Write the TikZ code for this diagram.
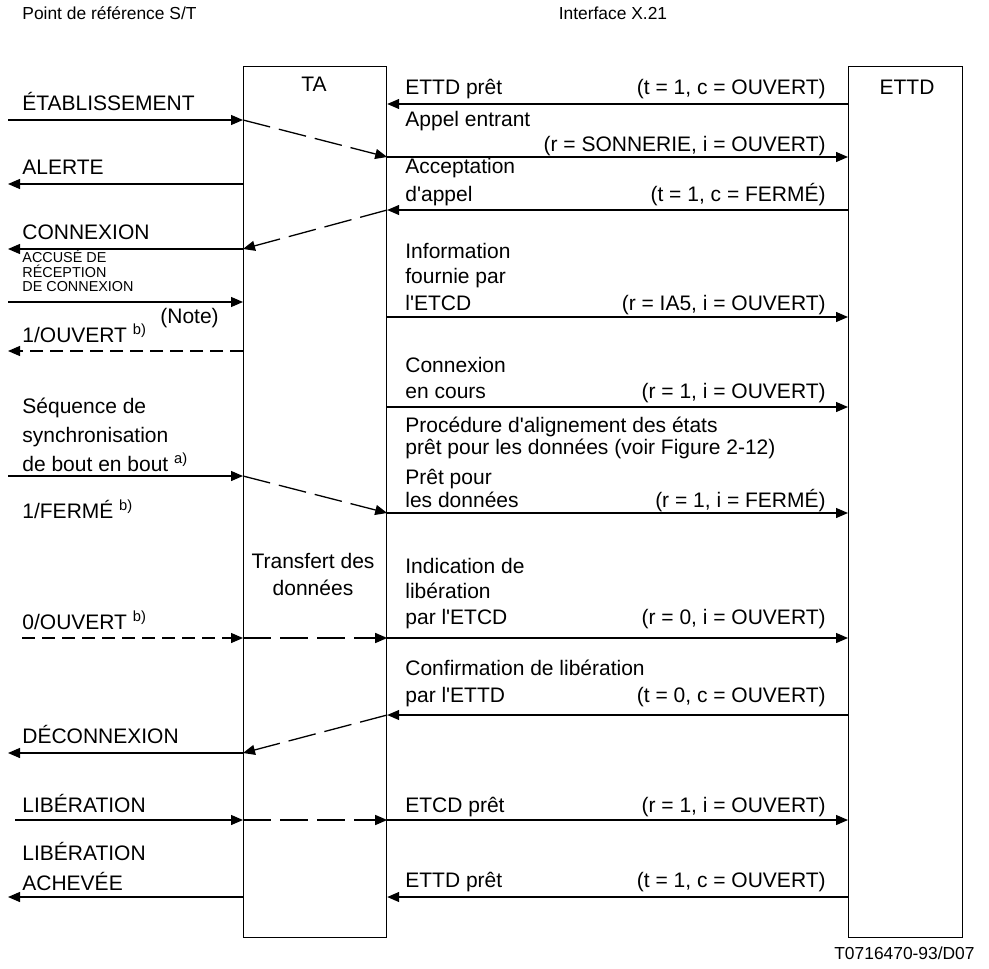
\documentclass[tikz,border=0pt]{standalone}
\usepackage{fontspec}
\setmainfont{Liberation Sans}
\usetikzlibrary{arrows.meta}

\begin{document}
\begin{tikzpicture}[x=0.5pt, y=-0.5pt,
  every node/.style={inner sep=0pt, font=\fontsize{10.5}{12.6}\selectfont},
  lbl/.style={anchor=base west},
  prm/.style={anchor=base east},
  small/.style={anchor=base west, font=\fontsize{7.2}{8}\selectfont},
  hdr/.style={font=\fontsize{8.7}{10}\selectfont},
  unit/.style={draw, line width=0.6pt, anchor=north west},
  msg/.style={line width=0.65pt, -{Triangle[length=6pt, width=5pt]}},
  dmsg/.style={msg, dash pattern=on 6.5pt off 3.5pt},
  lmsg/.style={msg, dash pattern=on 14pt off 4.5pt}]
  \useasboundingbox (0,0) rectangle (989,968);

  \node[hdr, anchor=base west] (refST) at (22,20) {Point de référence S/T};
  \node[hdr, anchor=base] (refX21) at (613,20) {Interface X.21};
  \node[hdr, anchor=base east] (figNo) at (975,959) {T0716470-93/D07};

  \node[unit, minimum width=71.5pt, minimum height=435.5pt] (ta) at (243,66) {};
  \node[unit, minimum width=57pt, minimum height=435.5pt] (ettd) at (848,66) {};
  \node[anchor=base] (taName) at (314,92) {TA};
  \node[anchor=base] (ettdName) at (907,95) {ETTD};
  \node[anchor=base] (xferA) at (313,568) {Transfert des};
  \node[anchor=base] (xferB) at (313,595) {données};

  % point de reference S/T
  \coordinate (etab) at (8,120);
  \coordinate (alerte) at (8,184);
  \coordinate (cnx) at (8,249);
  \coordinate (accuse) at (8,302);
  \coordinate (ouv1) at (8,351);
  \coordinate (synchro) at (8,476);
  \coordinate (ouv0) at (22,638);
  \coordinate (decnx) at (8,753);
  \coordinate (lib) at (15,820);
  \coordinate (libach) at (8,897);

  \node[lbl] (tEtab) at (22,111) {ÉTABLISSEMENT};
  \node[lbl] (tAlerte) at (22,175) {ALERTE};
  \node[lbl] (tCnx) at (22,239) {CONNEXION};
  \node[small] (tAccA) at (22,263) {ACCUSÉ DE};
  \node[small] (tAccB) at (22,277) {RÉCEPTION};
  \node[small] (tAccC) at (22,291) {DE CONNEXION};
  \node[lbl] (tNote) at (160,323) {(Note)};
  \node[lbl] (tOuv1) at (22,342) {1/OUVERT \textsuperscript{b)}};
  \node[lbl] (tSeqA) at (22,413) {Séquence de};
  \node[lbl] (tSeqB) at (22,442) {synchronisation};
  \node[lbl] (tSeqC) at (22,471) {de bout en bout \textsuperscript{a)}};
  \node[lbl] (tFerme) at (22,518) {1/FERMÉ \textsuperscript{b)}};
  \node[lbl] (tOuv0) at (22,629) {0/OUVERT \textsuperscript{b)}};
  \node[lbl] (tDecnx) at (22,743) {DÉCONNEXION};
  \node[lbl] (tLib) at (22,812) {LIBÉRATION};
  \node[lbl] (tLibA) at (22,860) {LIBÉRATION};
  \node[lbl] (tLibB) at (22,890) {ACHEVÉE};

  \draw[msg] (etab) -- (ta.west |- etab);
  \draw[msg] (ta.west |- alerte) -- (alerte);
  \draw[msg] (ta.west |- cnx) -- (cnx);
  \draw[msg] (accuse) -- (ta.west |- accuse);
  \draw[dmsg] (ta.west |- ouv1) -- (ouv1);
  \draw[msg] (synchro) -- (ta.west |- synchro);
  \draw[dmsg] (ouv0) -- (ta.west |- ouv0);
  \draw[msg] (ta.west |- decnx) -- (decnx);
  \draw[msg] (lib) -- (ta.west |- lib);
  \draw[msg] (ta.west |- libach) -- (libach);

  % interface X.21
  \coordinate (ettdA) at (0,104);
  \coordinate (appel) at (0,157);
  \coordinate (accept) at (0,210);
  \coordinate (info) at (0,317);
  \coordinate (encours) at (0,407);
  \coordinate (donnees) at (0,513);
  \coordinate (indic) at (0,638);
  \coordinate (confirm) at (0,715);
  \coordinate (etcd) at (0,820);
  \coordinate (ettdB) at (0,897);

  \node[lbl] (tEttdA) at (405,95) {ETTD prêt};
  \node[prm] (pEttdA) at (826,95) {(t = 1, c = OUVERT)};
  \node[lbl] (tAppel) at (405,127) {Appel entrant};
  \node[prm] (pAppel) at (826,152) {(r = SONNERIE, i = OUVERT)};
  \node[lbl] (tAccA) at (405,174) {Acceptation};
  \node[lbl] (tAccB) at (405,202) {d\textquotesingle appel};
  \node[prm] (pAcc) at (826,202) {(t = 1, c = FERMÉ)};
  \node[lbl] (tInfoA) at (405,258) {Information};
  \node[lbl] (tInfoB) at (405,283) {fournie par};
  \node[lbl] (tInfoC) at (405,310) {l\textquotesingle ETCD};
  \node[prm] (pInfo) at (826,310) {(r = IA5, i = OUVERT)};
  \node[lbl] (tCoursA) at (405,372) {Connexion};
  \node[lbl] (tCoursB) at (405,398) {en cours};
  \node[prm] (pCours) at (826,398) {(r = 1, i = OUVERT)};
  \node[lbl] (tProcA) at (405,432) {Procédure d\textquotesingle alignement des états};
  \node[lbl] (tProcB) at (405,454) {prêt pour les données (voir Figure 2-12)};
  \node[lbl] (tDonA) at (405,484) {Prêt pour};
  \node[lbl] (tDonB) at (405,507) {les données};
  \node[prm] (pDon) at (826,507) {(r = 1, i = FERMÉ)};
  \node[lbl] (tIndA) at (405,573) {Indication de};
  \node[lbl] (tIndB) at (405,598) {libération};
  \node[lbl] (tIndC) at (405,624) {par l\textquotesingle ETCD};
  \node[prm] (pInd) at (826,624) {(r = 0, i = OUVERT)};
  \node[lbl] (tConfA) at (405,675) {Confirmation de libération};
  \node[lbl] (tConfB) at (405,702) {par l\textquotesingle ETTD};
  \node[prm] (pConf) at (826,702) {(t = 0, c = OUVERT)};
  \node[lbl] (tEtcd) at (405,812) {ETCD prêt};
  \node[prm] (pEtcd) at (826,812) {(r = 1, i = OUVERT)};
  \node[lbl] (tEttdB) at (405,887) {ETTD prêt};
  \node[prm] (pEttdB) at (826,887) {(t = 1, c = OUVERT)};

  \draw[msg] (ettd.west |- ettdA) -- (ta.east |- ettdA);
  \draw[msg] (ta.east |- appel) -- (ettd.west |- appel);
  \draw[msg] (ettd.west |- accept) -- (ta.east |- accept);
  \draw[msg] (ta.east |- info) -- (ettd.west |- info);
  \draw[msg] (ta.east |- encours) -- (ettd.west |- encours);
  \draw[msg] (ta.east |- donnees) -- (ettd.west |- donnees);
  \draw[msg] (ta.east |- indic) -- (ettd.west |- indic);
  \draw[msg] (ettd.west |- confirm) -- (ta.east |- confirm);
  \draw[msg] (ta.east |- etcd) -- (ettd.west |- etcd);
  \draw[msg] (ettd.west |- ettdB) -- (ta.east |- ettdB);

  % through the TA
  \draw[lmsg] (ta.west |- etab) -- (ta.east |- appel);
  \draw[lmsg] (ta.east |- accept) -- (ta.west |- cnx);
  \draw[lmsg] (ta.west |- synchro) -- (ta.east |- donnees);
  \draw[lmsg] (ta.west |- ouv0) -- (ta.east |- indic);
  \draw[lmsg] (ta.east |- confirm) -- (ta.west |- decnx);
  \draw[lmsg] (ta.west |- lib) -- (ta.east |- etcd);
\end{tikzpicture}
\end{document}
